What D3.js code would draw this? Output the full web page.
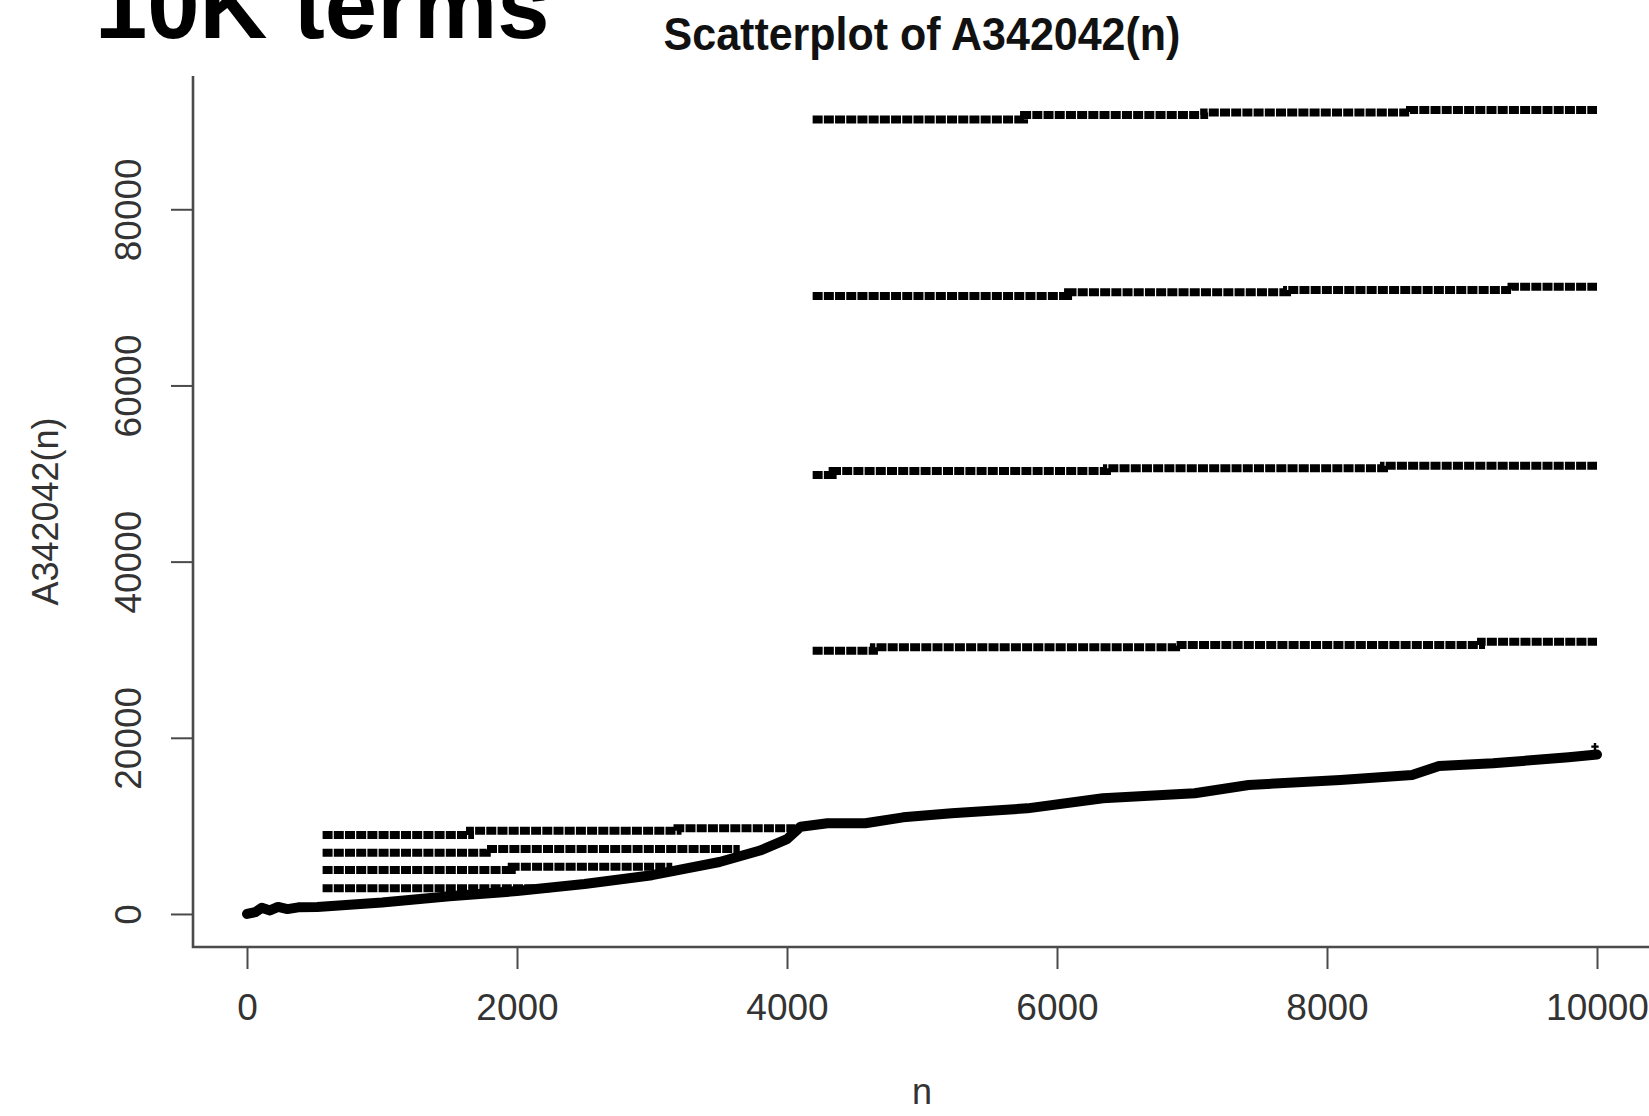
<!DOCTYPE html>
<html>
<head>
<meta charset="utf-8">
<script src="https://cdn.jsdelivr.net/npm/d3@7"></script>
<style>
body { margin: 0; background: #fff; }
text { font-family: "Liberation Sans", Arial, Helvetica, sans-serif; }
</style>
</head>
<body>
<svg width="1649" height="1116"></svg>
<script>
var xTicks = [0, 2000, 4000, 6000, 8000, 10000];
var yTicks = [0, 20000, 40000, 60000, 80000];

// main rising curve, [n, a(n)]
var mainCurve = [[0, 0], [60, 200], [110, 700], [170, 400], [230, 800], [300, 550], [380, 750],
  [520, 800], [1000, 1300], [1500, 2000], [2000, 2600], [2500, 3400], [3000, 4400],
  [3500, 5900], [3800, 7200], [4000, 8500], [4100, 9900], [4300, 10300], [4580, 10300],
  [4860, 10970], [5220, 11430], [5780, 11990], [6340, 13130], [7020, 13700], [7420, 14640],
  [8100, 15210], [8630, 15780], [8830, 16800], [9230, 17100], [9790, 17790], [10000, 18100]];

// low bands starting near n = 560
var band3k = [[560, 2910], [2250, 2910]];
var band5k = [[560, 4990], [1961, 5370], [3150, 5370]];
var band7k = [[560, 6960], [1776, 7370], [3650, 7370]];
var band9k = [[560, 8967], [1652, 9455], [3189, 9727], [4060, 9727]];

// high bands starting near n = 4190
var band30k = [[4190, 29890], [4644, 30270], [6882, 30530], [9141, 30910], [10000, 30910]];
var band50k = [[4190, 49830], [4338, 50290], [6370, 50590], [8422, 50890], [10000, 50890]];
var band70k = [[4190, 70150], [6082, 70570], [7704, 70830], [9367, 71210], [10000, 71210]];
var band90k = [[4190, 90200], [5756, 90690], [7090, 91000], [8615, 91260], [10000, 91260]];

// lone last point sitting above the curve
var stray = [[9985, 19000]];

var svg = d3.select("svg");

var x = d3.scaleLinear().domain([-400, 10400]).range([193, 1651]);
var y = d3.scaleLinear().domain([-3750, 95130]).range([947, 76]);

var axisColor = "#4a4a4a";

// L shaped box
svg.append("path")
  .attr("d", "M" + x.range()[0] + "," + y.range()[1] + "V" + y.range()[0] + "H" + x.range()[1])
  .attr("fill", "none")
  .attr("stroke", axisColor)
  .attr("stroke-width", 2.6);

var xAxis = svg.append("g")
  .attr("transform", "translate(0," + y.range()[0] + ")")
  .call(d3.axisBottom(x).tickValues(xTicks).tickFormat(d3.format("d")).tickSize(22).tickSizeOuter(0).tickPadding(25));
xAxis.select(".domain").remove();
xAxis.selectAll("line").attr("stroke", axisColor).attr("stroke-width", 2);
xAxis.selectAll("text")
  .attr("font-size", 37)
  .attr("font-family", "Liberation Sans, Arial, sans-serif")
  .attr("fill", "#333");

var yAxis = svg.append("g")
  .attr("transform", "translate(" + x.range()[0] + ",0)")
  .call(d3.axisLeft(y).tickValues(yTicks).tickFormat(d3.format("d")).tickSize(22).tickSizeOuter(0));
yAxis.select(".domain").remove();
yAxis.selectAll("line").attr("stroke", axisColor).attr("stroke-width", 2);
yAxis.selectAll("text")
  .attr("font-size", 37)
  .attr("font-family", "Liberation Sans, Arial, sans-serif")
  .attr("fill", "#333")
  .attr("text-anchor", "middle")
  .attr("transform", "rotate(-90)")
  .attr("x", 0)
  .attr("y", -52)
  .attr("dy", 0);

// marks
var step = d3.line()
  .x(function(d) { return x(d[0]); })
  .y(function(d) { return y(d[1]); })
  .curve(d3.curveStepAfter);

var straight = d3.line()
  .x(function(d) { return x(d[0]); })
  .y(function(d) { return y(d[1]); });

var bands = [band3k, band5k, band7k, band9k, band30k, band50k, band70k, band90k];

svg.selectAll(".band")
  .data(bands)
  .enter().append("path")
  .attr("class", "band")
  .attr("d", step)
  .attr("fill", "none")
  .attr("stroke", "#000")
  .attr("stroke-width", 8)
  .attr("stroke-dasharray", "10,1.2");

svg.append("path")
  .datum(mainCurve)
  .attr("class", "main")
  .attr("d", straight)
  .attr("fill", "none")
  .attr("stroke", "#000")
  .attr("stroke-width", 10)
  .attr("stroke-linejoin", "round")
  .attr("stroke-linecap", "round");

svg.selectAll(".stray")
  .data(stray)
  .enter().append("path")
  .attr("class", "stray")
  .attr("transform", function(d) { return "translate(" + x(d[0]) + "," + y(d[1]) + ")"; })
  .attr("d", d3.symbol(d3.symbolCross, 30))
  .attr("fill", "#000");

// labels
svg.append("text")
  .attr("transform", "translate(922,50) scale(1,1.09)")
  .attr("text-anchor", "middle")
  .attr("font-size", 43)
  .attr("font-weight", "bold")
  .attr("fill", "#111")
  .text("Scatterplot of A342042(n)");

svg.append("text")
  .attr("x", (x.range()[0] + x.range()[1]) / 2)
  .attr("y", 1104)
  .attr("text-anchor", "middle")
  .attr("font-size", 36)
  .attr("fill", "#333")
  .text("n");

svg.append("text")
  .attr("transform", "translate(58," + (y.range()[0] + y.range()[1]) / 2 + ") rotate(-90)")
  .attr("text-anchor", "middle")
  .attr("font-size", 36)
  .attr("fill", "#333")
  .text("A342042(n)");

svg.append("text")
  .attr("x", 95)
  .attr("y", 38)
  .attr("font-size", 94)
  .attr("font-weight", "bold")
  .attr("fill", "#000")
  .text("10K terms");
</script>
</body>
</html>
